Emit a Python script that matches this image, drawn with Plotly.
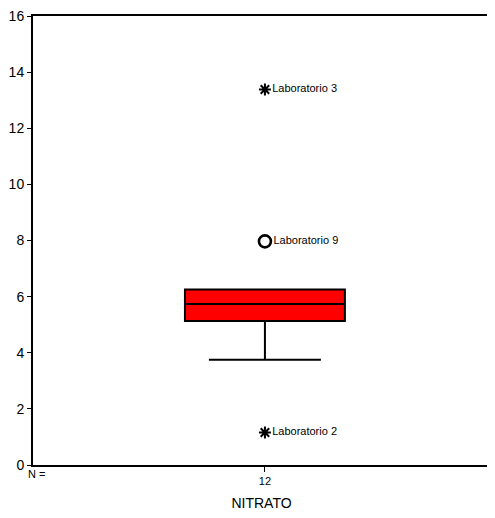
import plotly.graph_objects as go

# Data
categories = ["NITRATO"]
n_counts = ["12"]
q1 = [5.13]
median = [5.74]
q3 = [6.25]
lower_whisker = [3.75]
upper_whisker = [6.25]

outlier_labels = ["Laboratorio 3", "Laboratorio 9", "Laboratorio 2"]
outlier_values = [13.38, 7.97, 1.16]
outlier_symbols = ["asterisk-open", "circle-open", "asterisk-open"]

y_ticks = [0, 2, 4, 6, 8, 10, 12, 14, 16]

FONT = "Liberation Sans, Arial, sans-serif"

fig = go.Figure()
fig.add_trace(go.Box(
    x=[1], q1=q1, median=median, q3=q3,
    lowerfence=lower_whisker, upperfence=upper_whisker,
    width=0.7, whiskerwidth=0.7,
    fillcolor="#ff0000", line=dict(color="black", width=2),
    boxpoints=False, showlegend=False, hoverinfo="skip",
))
for lab, val, sym in zip(outlier_labels, outlier_values, outlier_symbols):
    is_circ = sym.startswith("circle")
    fig.add_trace(go.Scatter(
        x=[1], y=[val], mode="markers+text",
        marker=dict(symbol=sym, size=12 if is_circ else 10,
                    color="black", line=dict(color="black", width=2.6 if is_circ else 2)),
        text=[lab], textposition="middle right",
        textfont=dict(family=FONT, size=11, color="black"),
        showlegend=False, cliponaxis=False,
    ))

fig.add_annotation(x=0, xref="paper", y=0, yref="paper", yshift=-17, xshift=-7,
                   text="N =", showarrow=False, font=dict(family=FONT, size=11, color="black"))

fig.update_layout(
    width=487, height=510,
    margin=dict(l=25, r=5, t=8, b=53, autoexpand=False),
    plot_bgcolor="white", paper_bgcolor="white",
    font=dict(family=FONT, color="black"),
    xaxis=dict(range=[-0.015, 1.985], tickvals=[1], ticktext=n_counts,
               ticks="outside", ticklen=5, tickwidth=1, tickcolor="black",
               tickfont=dict(size=11), automargin=False,
               showline=True, linecolor="black", linewidth=2, mirror=True,
               showgrid=False, zeroline=False,
               title=dict(text=categories[0], font=dict(size=14), standoff=12)),
    yaxis=dict(range=[0, 16], tickvals=y_ticks,
               ticks="outside", ticklen=4, tickwidth=1, tickcolor="black",
               tickfont=dict(size=14), automargin=False, ticklabeloverflow="allow",
               showline=True, linecolor="black", linewidth=2, mirror=True,
               showgrid=False, zeroline=False),
)

fig.write_html("out.html")
